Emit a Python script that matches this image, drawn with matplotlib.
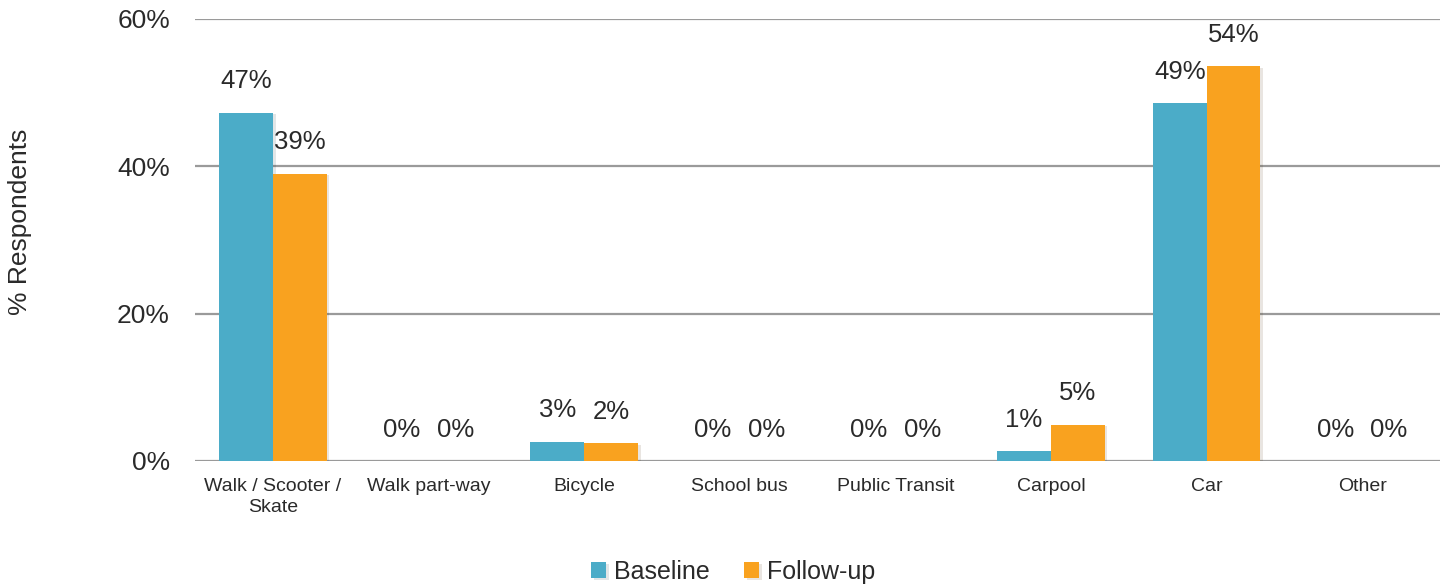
import numpy as np
import matplotlib
matplotlib.use("Agg")
import matplotlib.pyplot as plt
import matplotlib.ticker as ticker
import matplotlib.patheffects as pe

plt.rcParams['font.family'] = ['Liberation Sans', 'DejaVu Sans']

categories = ["Walk / Scooter /\nSkate", "Walk part-way", "Bicycle", "School bus",
              "Public Transit", "Carpool", "Car", "Other"]
baseline = [47.3, 0.0, 2.6, 0.0, 0.0, 1.3, 48.6, 0.0]
followup = [39.0, 0.0, 2.4, 0.0, 0.0, 4.9, 53.6, 0.0]
series_names = ["Baseline", "Follow-up"]
yticks = [0, 20, 40, 60]

blue = "#4BACC8"
orange = "#F9A21F"
txt = "#2a2a2a"

fig = plt.figure(figsize=(14.43, 5.86), dpi=100)
ax = fig.add_axes([195 / 1443, 1 - 461 / 586, 1245 / 1443, 442 / 586])

x = np.arange(len(categories))
w = 0.345
shadow = [pe.SimplePatchShadow(offset=(2, -1), alpha=0.12), pe.Normal()]
b1 = ax.bar(x - w / 2, baseline, w, color=blue, label=series_names[0], zorder=3, path_effects=shadow)
b2 = ax.bar(x + w / 2, followup, w, color=orange, label=series_names[1], zorder=3, path_effects=shadow)

for bars, vals in [(b1, baseline), (b2, followup)]:
    for rect, v in zip(bars, vals):
        ax.annotate(f"{v:.0f}%", (rect.get_x() + rect.get_width() / 2, rect.get_height()),
                    xytext=(0, 14), textcoords="offset points", ha="center", va="bottom",
                    fontsize=18.5, color=txt)

ax.set_xlim(-0.5, len(categories) - 0.5)
ax.set_ylim(0, 60)
ax.set_yticks(yticks)
ax.yaxis.set_major_formatter(ticker.FuncFormatter(lambda y, pos: f"{y:.0f}%"))
ax.grid(axis="y", color="#9a9a9a", linewidth=1.6, zorder=0)
ax.set_xticks(x)
ax.set_xticklabels(categories, fontsize=14, color=txt, linespacing=1.3)
ax.tick_params(axis="x", length=0, pad=12)
ax.tick_params(axis="y", length=0, pad=18, labelsize=19, labelcolor=txt)
for s in ax.spines.values():
    s.set_visible(False)
ax.set_axisbelow(True)

fig.text(20 / 1443, 1 - 222 / 586, "% Respondents", rotation=90, ha="center", va="center",
         fontsize=19, color=txt)

fig.legend(handles=[b1, b2], labels=series_names, loc="center", bbox_to_anchor=(733 / 1443, 1 - 572 / 586),
           ncol=2, frameon=False, fontsize=18, handlelength=0.6, handleheight=0.6,
           handletextpad=0.3, columnspacing=1.4, labelcolor=txt)

fig.savefig("out.png", dpi=100)
